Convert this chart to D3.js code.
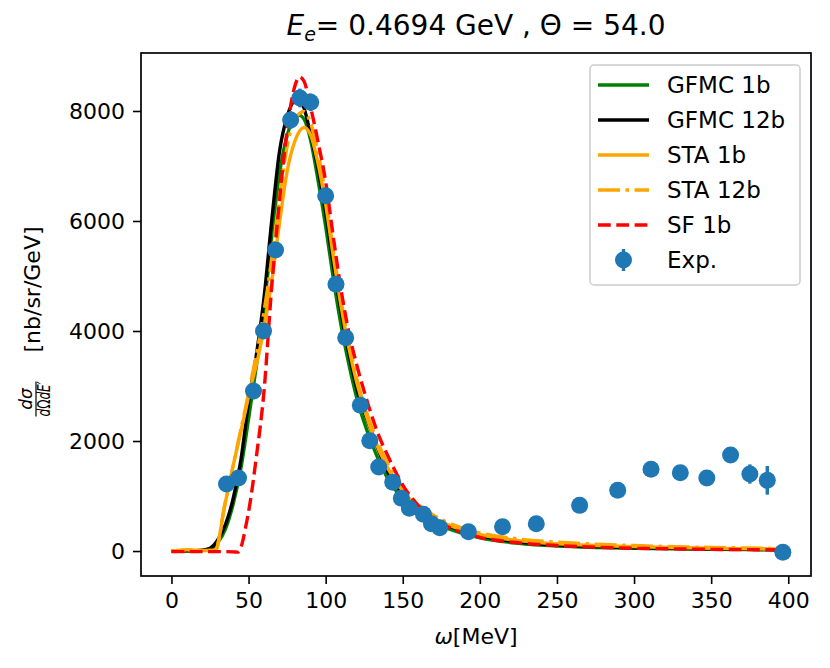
<!DOCTYPE html>
<html>
<head>
<meta charset="utf-8">
<script src="https://cdn.jsdelivr.net/npm/d3@7"></script>
<style>
  body { margin: 0; background: #fff; }
  text { font-family: "DejaVu Sans", sans-serif; fill: #000; }
</style>
</head>
<body>
<svg id="chart" width="830" height="668"></svg>
<script>
/*
  Inclusive cross section vs energy transfer, models against data
*/

// energy transfer grids (MeV) for each family of curves
const gfmcOmega = [0, 10, 20, 25, 30, 35, 40, 45, 50, 55, 60, 65, 70, 75, 80, 83, 86, 90, 95, 100,
  105, 110, 115, 120, 130, 140, 150, 160, 170, 180, 200, 225, 250, 275, 300, 325, 350, 375, 395]
const staOmega = [0, 5, 10, 15, 20, 25, 29, 31, 34, 37, 40, 44, 48, 52, 56, 60, 65, 70, 75, 80,
  86, 90, 95, 100, 105, 110, 115, 120, 130, 140, 150, 160, 170, 180, 200, 225, 250, 275, 300, 325,
  350, 375, 395]
const sfOmega = [0, 10, 20, 30, 40, 43, 45, 48, 51, 55, 60, 65, 70, 75, 80, 83, 86, 90, 95, 100,
  105, 110, 115, 120, 125, 130, 135, 140, 150, 160, 170, 180, 200, 225, 250, 275, 300, 325, 350, 375,
  395]

// model cross sections (nb/sr/GeV)
const gfmc1b = [0, 2, 12, 35, 150, 400, 850, 1500, 2400, 3350, 4400, 5700, 6850, 7550, 7880, 7920, 7850, 7500, 6750, 5900,
  4950, 4100, 3400, 2800, 1950, 1330, 950, 690, 520, 400, 240, 140, 90, 65, 50, 40, 32, 25, 20]
const gfmc12b = [0, 2, 15, 50, 200, 480, 950, 1650, 2700, 3550, 4600, 6000, 7250, 7900, 8180, 8190, 8050, 7600, 6950, 6150,
  5200, 4350, 3600, 2980, 2150, 1450, 1040, 760, 570, 450, 275, 165, 110, 80, 60, 50, 40, 32, 25]
const sta1b = [0, 10, 25, 15, 10, 10, 20, 250, 750, 1150, 1550, 2050, 2550, 3050, 3500, 4050, 4900, 5950, 6900, 7450,
  7700, 7580, 7050, 6300, 5350, 4450, 3700, 3080, 2150, 1520, 1090, 800, 600, 470, 300, 190, 130, 100, 80, 65,
  50, 40, 35]
const sta12b = [0, 10, 25, 15, 10, 10, 20, 250, 750, 1150, 1550, 2080, 2600, 3150, 3700, 4350, 5300, 6400, 7350, 7850,
  7990, 7800, 7250, 6450, 5450, 4550, 3800, 3150, 2250, 1600, 1150, 850, 650, 510, 330, 220, 160, 125, 100, 80,
  65, 55, 45]
const sf1b = [-10, -10, -10, -10, -15, -20, 60, 420, 880, 1700, 2900, 4800, 6350, 7650, 8450, 8620, 8540, 8100, 7450, 6715,
  5700, 4750, 3980, 3400, 2900, 2450, 2060, 1750, 1200, 830, 580, 430, 250, 150, 100, 70, 50, 40, 30, 25,
  20]

// experimental data
const expOmega = [35.7, 43.5, 53.2, 59.7, 67.5, 77.3, 83.3, 90.3, 100, 106.7, 113, 122.5, 128.6, 134.4, 143.5, 149.1,
  154.3, 163.4, 168.6, 174, 192.6, 214.7, 236.6, 264.7, 289.4, 311, 330, 347.2, 362.6, 375.1, 386.4, 396.5]
const expXsec = [1218, 1327, 2909, 4000, 5473, 7836, 8236, 8158, 6460, 4849, 3878, 2649, 2006, 1527, 1249, 958,
  776, 667, 496, 424, 351, 442, 496, 830, 1103, 1485, 1424, 1327, 1745, 1400, 1285, -24]
const expErr = [60, 60, 90, 110, 140, 160, 170, 160, 130, 100, 80, 60, 50, 40, 40, 30,
  30, 30, 25, 25, 20, 40, 40, 60, 80, 90, 90, 90, 110, 175, 260, 30]

// ticks
const xTicks = [0, 50, 100, 150, 200, 250, 300, 350, 400]
const yTicks = [0, 2000, 4000, 6000, 8000]

const box = { left: 141, right: 811, top: 53, bottom: 576 }

const svg = d3.select("#chart")
svg.append("rect").attr("width", 830).attr("height", 668).style("fill", "#fff")

const x = d3.scaleLinear().domain([-19.75, 414.75]).range([box.left, box.right])
const y = d3.scaleLinear().domain([-454, 9054]).range([box.bottom, box.top])

/**
 * series()
 * @description zips an omega grid with values
 */
function series(xs, ys) {
  return xs.map((v, i) => [v, ys[i]])
}

const models = [
  { name: "GFMC 1b", data: series(gfmcOmega, gfmc1b), color: "green", dash: null },
  { name: "GFMC 12b", data: series(gfmcOmega, gfmc12b), color: "black", dash: null },
  { name: "STA 1b", data: series(staOmega, sta1b), color: "orange", dash: null },
  { name: "STA 12b", data: series(staOmega, sta12b), color: "orange", dash: "22,5.5,3.5,5.5" },
  { name: "SF 1b", data: series(sfOmega, sf1b), color: "red", dash: "12.8,5.5" }
]

const line = d3.line()
  .x(d => x(d[0]))
  .y(d => y(d[1]))
  .curve(d3.curveMonotoneX)

const plot = svg.append("g")

plot.selectAll("path.model")
  .data(models)
  .enter().append("path")
  .attr("class", "model")
  .attr("d", d => line(d.data))
  .style("fill", "none")
  .style("stroke", d => d.color)
  .style("stroke-width", 3.4)
  .style("stroke-dasharray", d => d.dash)

// error bars and markers
const exp = expOmega.map((v, i) => ({ w: v, s: expXsec[i], e: expErr[i] }))
const blue = "#1f77b4"

plot.selectAll("line.err")
  .data(exp)
  .enter().append("line")
  .attr("class", "err")
  .attr("x1", d => x(d.w)).attr("x2", d => x(d.w))
  .attr("y1", d => y(d.s - d.e)).attr("y2", d => y(d.s + d.e))
  .style("stroke", blue)
  .style("stroke-width", 3.4)

plot.selectAll("circle.exp")
  .data(exp)
  .enter().append("circle")
  .attr("class", "exp")
  .attr("cx", d => x(d.w))
  .attr("cy", d => y(d.s))
  .attr("r", 8.5)
  .style("fill", blue)

// axes
const xAxis = svg.append("g")
  .attr("transform", `translate(0,${box.bottom})`)
  .call(d3.axisBottom(x).tickValues(xTicks).tickFormat(d3.format("d")).tickSize(8).tickPadding(8))
const yAxis = svg.append("g")
  .attr("transform", `translate(${box.left},0)`)
  .call(d3.axisLeft(y).tickValues(yTicks).tickFormat(d3.format("d")).tickSize(8).tickPadding(8))

for (const a of [xAxis, yAxis]) {
  a.select(".domain").remove()
  a.selectAll(".tick line").style("stroke", "#000").style("stroke-width", 1.6)
  a.selectAll(".tick text").style("font-size", "22px").style("font-family", "DejaVu Sans")
}

svg.append("rect")
  .attr("x", box.left).attr("y", box.top)
  .attr("width", box.right - box.left).attr("height", box.bottom - box.top)
  .style("fill", "none").style("stroke", "#000").style("stroke-width", 1.7)

// title
const title = svg.append("text")
  .attr("x", (box.left + box.right) / 2).attr("y", 35)
  .attr("text-anchor", "middle")
  .style("font-size", "28px")
title.append("tspan").style("font-style", "italic").text("E")
title.append("tspan").style("font-style", "italic").style("font-size", "19px").attr("dy", 6).text("e")
title.append("tspan").attr("dy", -6).text("= 0.4694 GeV , Θ = 54.0")

// x label
const xLabel = svg.append("text")
  .attr("x", (box.left + box.right) / 2).attr("y", 644)
  .attr("text-anchor", "middle")
  .style("font-size", "22px")
xLabel.append("tspan").style("font-style", "italic").text("ω")
xLabel.append("tspan").text("[MeV]")

// y label, with the fraction drawn by hand
const yLabel = svg.append("g").attr("transform", "translate(40,315.5) rotate(-90)")
yLabel.append("text").attr("x", -83.5).attr("y", -8)
  .attr("text-anchor", "middle").style("font-size", "17px").style("font-style", "italic")
  .text("dσ")
yLabel.append("line").attr("x1", -101).attr("x2", -66).attr("y1", -4).attr("y2", -4)
  .style("stroke", "#000").style("stroke-width", 1.2)
const den = yLabel.append("text").attr("x", -101).attr("y", 10)
  .attr("textLength", 35).attr("lengthAdjust", "spacingAndGlyphs")
  .style("font-size", "17px")
den.append("tspan").style("font-style", "italic").text("d")
den.append("tspan").text("Ω")
den.append("tspan").style("font-style", "italic").text("dE′")
yLabel.append("text").attr("x", -37).attr("y", 0)
  .style("font-size", "22px")
  .text("[nb/sr/GeV]")

// legend
const legend = svg.append("g")
legend.append("rect")
  .attr("x", 590).attr("y", 65).attr("width", 210).attr("height", 220)
  .attr("rx", 4)
  .style("fill", "#fff").style("fill-opacity", 0.8)
  .style("stroke", "#ccc").style("stroke-width", 1.5)

const entries = models.concat([{ name: "Exp.", exp: true }])
const rows = legend.selectAll("g.row")
  .data(entries)
  .enter().append("g")
  .attr("class", "row")
  .attr("transform", (d, i) => `translate(0,${85 + i * 35})`)

rows.filter(d => !d.exp).append("line")
  .attr("x1", 598).attr("x2", 649)
  .style("stroke", d => d.color)
  .style("stroke-width", 3.4)
  .style("stroke-dasharray", d => d.dash)

const expRow = rows.filter(d => d.exp)
expRow.append("line").attr("x1", 623.5).attr("x2", 623.5).attr("y1", -11).attr("y2", 11)
  .style("stroke", blue).style("stroke-width", 3.4)
expRow.append("circle").attr("cx", 623.5).attr("r", 8.5).style("fill", blue)

rows.append("text")
  .attr("x", 667).attr("y", 8)
  .style("font-size", "23px")
  .text(d => d.name)
</script>
</body>
</html>
